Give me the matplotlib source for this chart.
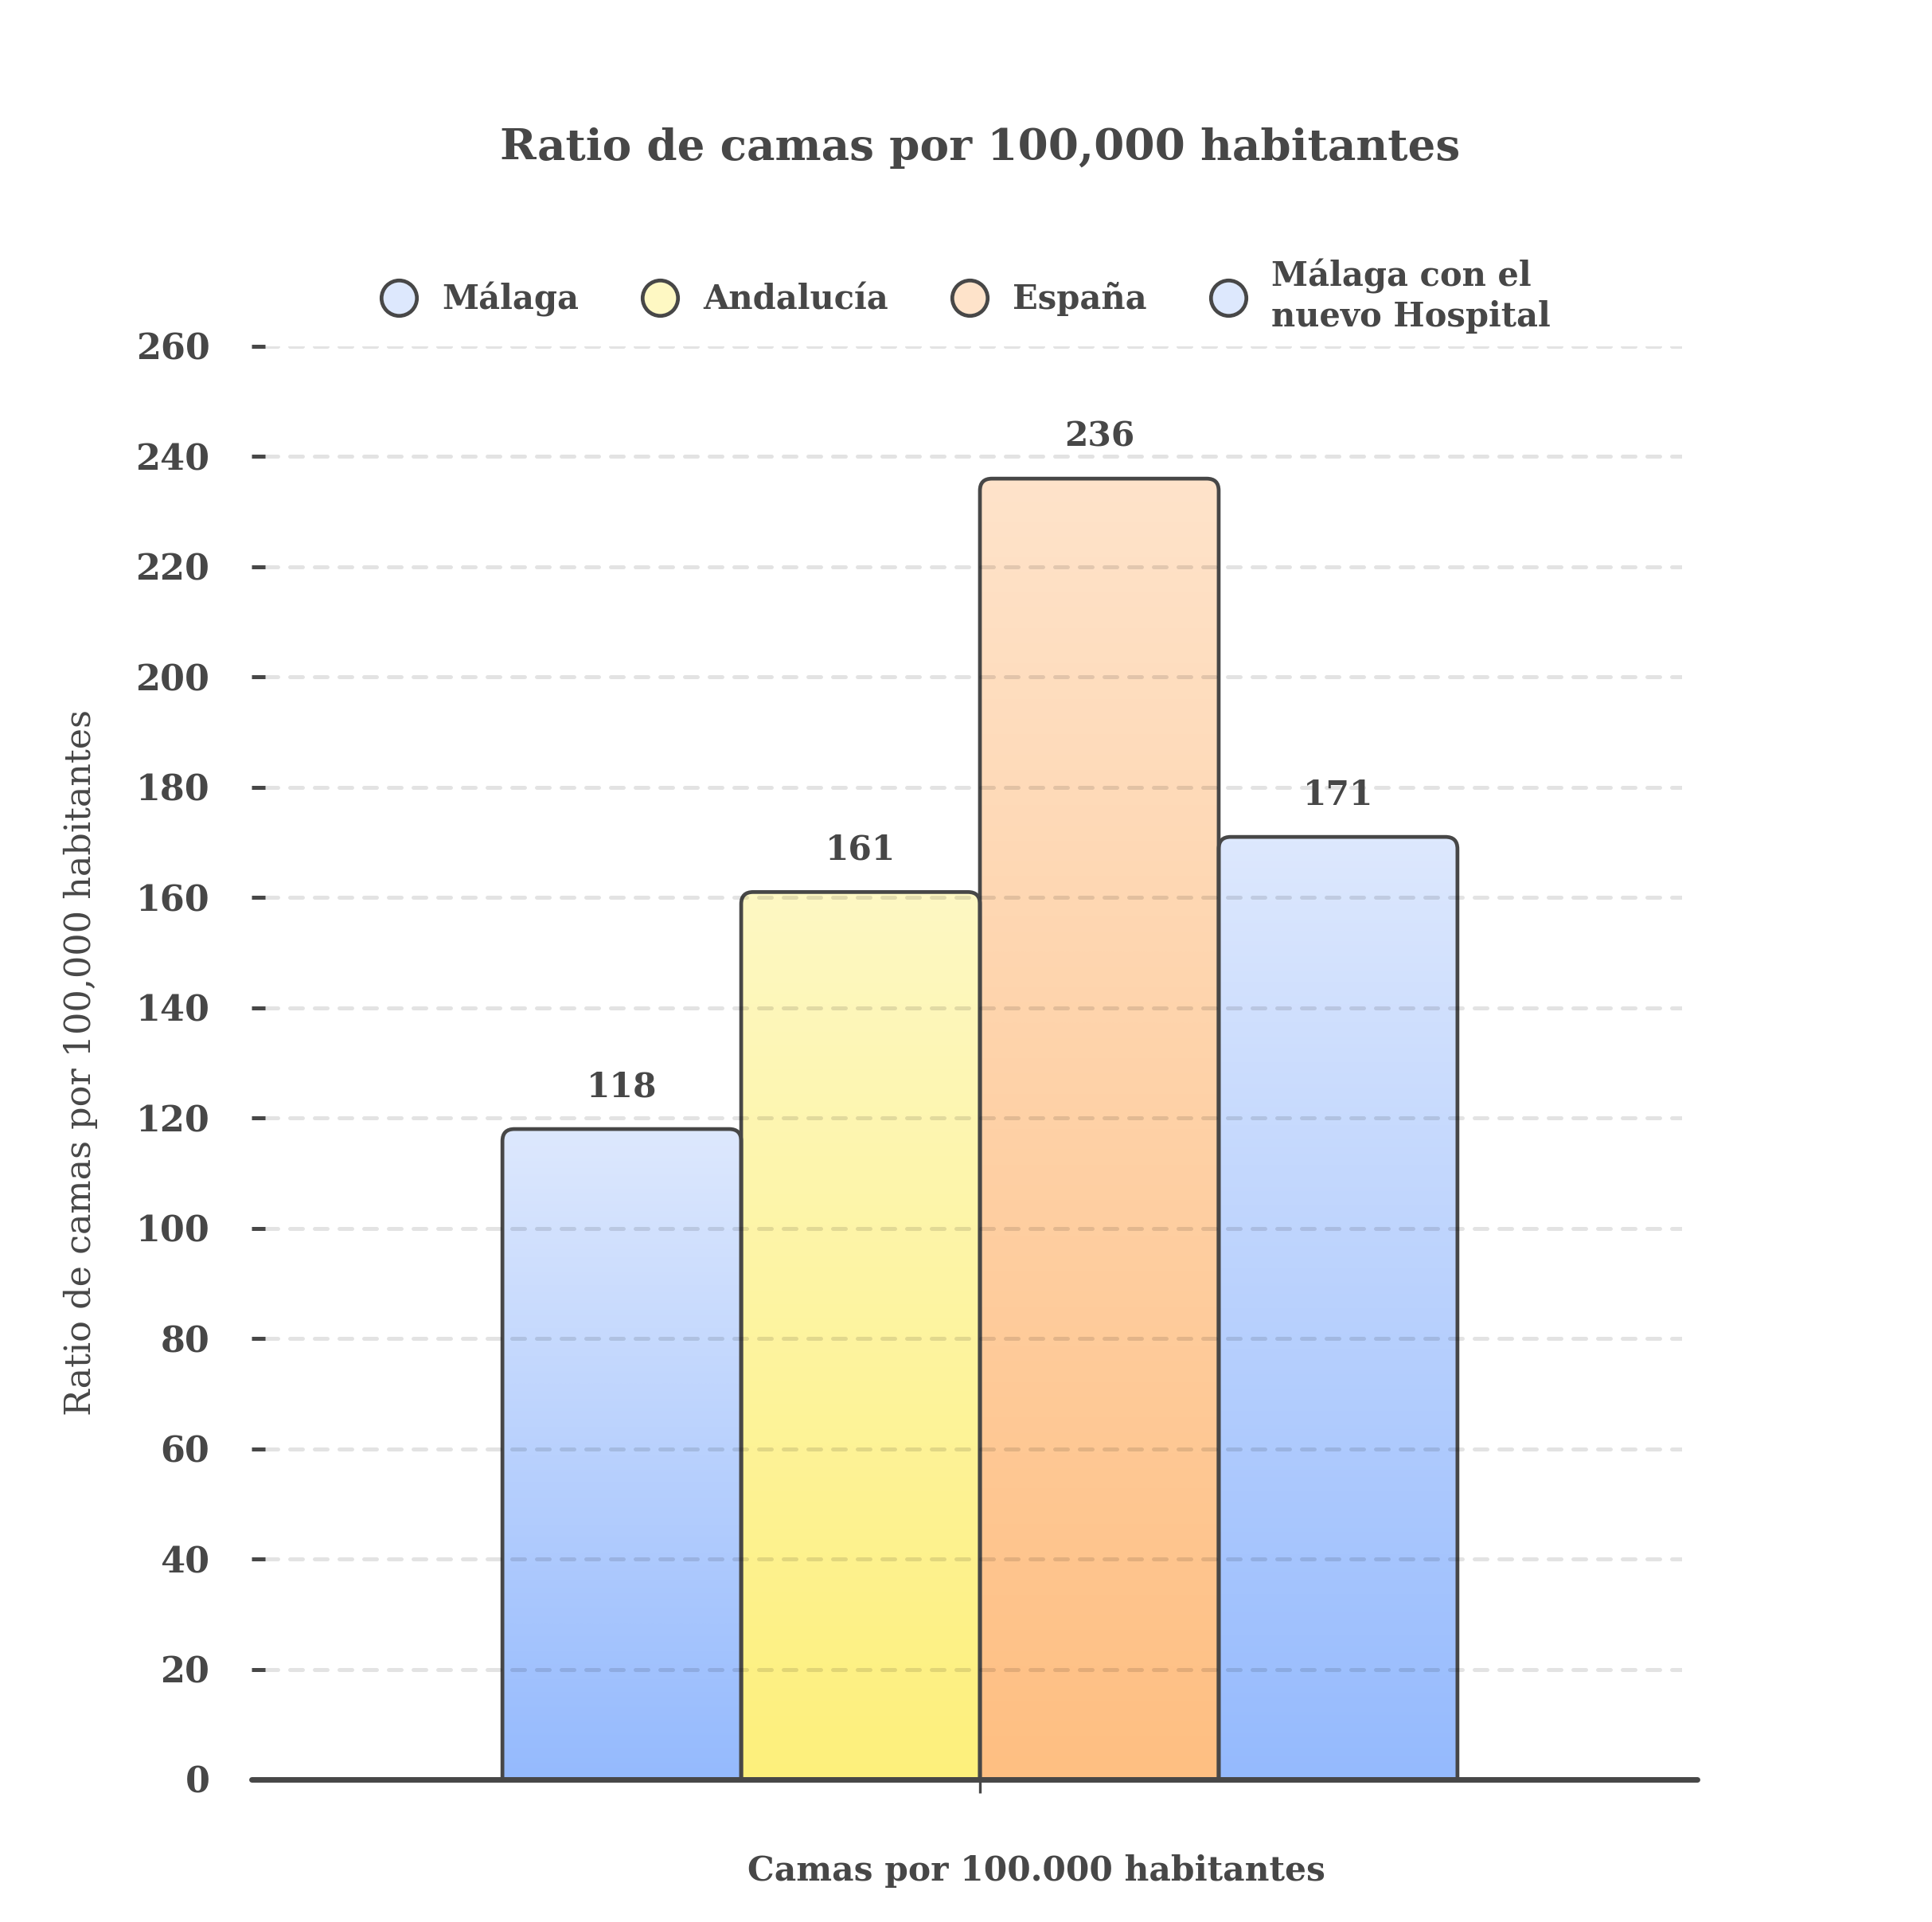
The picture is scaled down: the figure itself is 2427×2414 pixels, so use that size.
import matplotlib.pyplot as plt
import numpy as np
from matplotlib.patches import FancyBboxPatch
from matplotlib.lines import Line2D
from matplotlib.colors import LinearSegmentedColormap

# Datos
categorias = ['Málaga', 'Andalucía', 'España', 'Málaga con el\nnuevo Hospital']
valores = [118, 161, 236, 171]
ticks_y = [0, 20, 40, 60, 80, 100, 120, 140, 160, 180, 200, 220, 240, 260]

# colores del degradado (arriba, abajo)
colores_arriba = ['#dde8fd', '#fef8c3', '#fee3ca', '#dde8fd']
colores_abajo = ['#95bafd', '#fdf07c', '#febf82', '#95bafd']

GRIS = '#474747'
FUENTE = 'DejaVu Serif'
W, H = 2427, 2414

plt.rcParams['font.family'] = FUENTE

fig = plt.figure(figsize=(W / 100, H / 100), dpi=100)
# ejes en pixeles de la imagen
izq, der, arr, aba = 333, 2113, 435, 2235
ax = fig.add_axes([izq / W, 1 - aba / H, (der - izq) / W, (aba - arr) / H])

ancho = 0.1685
ax.set_xlim(-0.5045, 0.4955)
ax.set_ylim(0, 260)

# relacion de aspecto para las esquinas redondeadas
px_x = 1.0 / (der - izq)
px_y = 260.0 / (aba - arr)
radio = 15 * px_x
aspecto = px_y / px_x

n = len(valores)
posiciones = (np.arange(n) - (n - 1) / 2) * ancho

grad = np.linspace(0, 1, 256).reshape(-1, 1)
for i, (x, v) in enumerate(zip(posiciones, valores)):
    cmap = LinearSegmentedColormap.from_list('g%d' % i, [colores_abajo[i], colores_arriba[i]])
    caja = FancyBboxPatch((x - ancho / 2, -30), ancho, v + 30,
                          boxstyle='round,pad=0,rounding_size=%f' % radio,
                          mutation_aspect=aspecto, facecolor='none',
                          edgecolor=GRIS, linewidth=3.4, zorder=3)
    ax.add_patch(caja)
    im = ax.imshow(grad, extent=[x - ancho / 2, x + ancho / 2, 0, v], origin='lower',
                   cmap=cmap, aspect='auto', zorder=2, interpolation='bicubic')
    im.set_clip_path(caja)
    ax.text(x, v + 7.6, str(v), ha='center', va='center', fontsize=30.5,
            fontweight='bold', color=GRIS, zorder=5)

ax.set_xlim(-0.5045, 0.4955)
ax.set_ylim(0, 260)

# rejilla por encima de las barras
for t in ticks_y[1:]:
    ax.axhline(t, color='black', alpha=0.11, linewidth=3.6,
               linestyle=(0, (3.2, 3.0)), dash_capstyle='round', zorder=4)

for s in ['left', 'right', 'top', 'bottom']:
    ax.spines[s].set_visible(False)

# linea del eje x
ax.add_line(Line2D([-0.0096, 1.0107], [0, 0], transform=ax.transAxes, color=GRIS,
                   linewidth=5, solid_capstyle='round', clip_on=False, zorder=6))

ax.set_yticks(ticks_y)
ax.set_yticklabels([str(t) for t in ticks_y], fontsize=32, fontweight='bold', color=GRIS)
ax.tick_params(axis='y', length=12, width=3.6, color=GRIS, pad=38)
ax.set_xticks([0])
ax.set_xticklabels([''])
ax.tick_params(axis='x', length=12, width=2.4, color=GRIS)

# textos
fig.text(1231 / W, 1 - 186 / H, 'Ratio de camas por 100,000 habitantes', ha='center', va='center',
         fontsize=39.5, fontweight='bold', color=GRIS)
fig.text(1302 / W, 1 - 2350 / H, 'Camas por 100.000 habitantes', ha='center', va='center',
         fontsize=30.5, fontweight='bold', color=GRIS)
fig.text(101 / W, 1 - 1335 / H, 'Ratio de camas por 100,000 habitantes', ha='center', va='center',
         rotation=90, fontsize=32, color=GRIS)

# leyenda
manejadores = [Line2D([], [], linestyle='none', marker='o', markersize=32,
                      markerfacecolor=c, markeredgecolor=GRIS, markeredgewidth=3.4)
               for c in colores_arriba]
leg = fig.legend(manejadores, categorias, loc='center', bbox_to_anchor=(1214 / W, 1 - 372 / H),
                 ncol=4, frameon=False, prop={'family': FUENTE, 'weight': 'bold', 'size': 30},
                 labelcolor=GRIS, handlelength=1.0, handletextpad=0.8, columnspacing=1.95,
                 labelspacing=0.2)
for t in leg.get_texts():
    t.set_linespacing(1.25)

fig.savefig('out.png', dpi=100, facecolor='white')
